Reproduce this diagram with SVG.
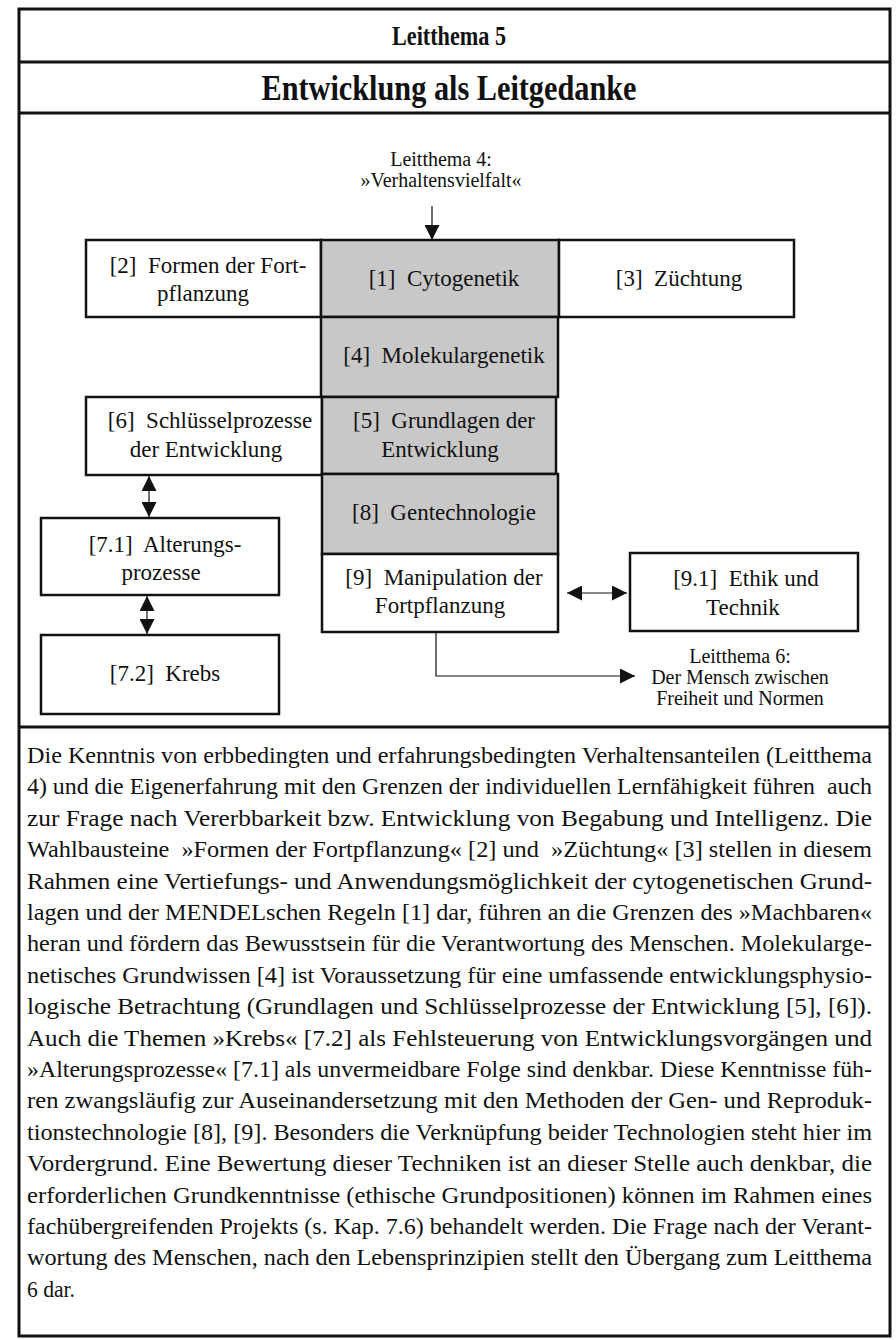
<svg xmlns="http://www.w3.org/2000/svg" width="896" height="1340" viewBox="0 0 896 1340">
  <style>
    .frame { fill: #ffffff; stroke: #111111; stroke-width: 3; }
    .sep { stroke: #111111; stroke-width: 3; }
    .box { fill: #ffffff; stroke: #111111; stroke-width: 2.5; }
    .core { fill: #c8c8c8; stroke: #111111; stroke-width: 2.5; }
    .title { font-family: "Liberation Serif", "Times New Roman", serif; font-weight: bold; fill: #111111; text-anchor: middle; }
    .label { font-family: "Liberation Serif", "Times New Roman", serif; font-size: 23px; fill: #111111; text-anchor: middle; }
    .note { font-family: "Liberation Serif", "Times New Roman", serif; font-size: 20px; fill: #111111; text-anchor: middle; }
    .body { font-family: "Liberation Serif", "Times New Roman", serif; font-size: 24px; fill: #111111; }
    .link { fill: none; stroke: #111111; stroke-width: 1.2; }
  </style>
  <defs>
    <marker id="head" viewBox="0 0 15 15" refX="15" refY="7.5" markerWidth="15" markerHeight="15" markerUnits="userSpaceOnUse" orient="auto-start-reverse">
      <path d="M0,0 L15,7.5 L0,15 z" fill="#111111"/>
    </marker>
  </defs>

  <!-- outer frame and row rules -->
  <rect class="frame" x="19" y="9" width="871" height="1327"/>
  <line class="sep" x1="19" y1="62" x2="890" y2="62"/>
  <line class="sep" x1="19" y1="113" x2="890" y2="113"/>
  <line class="sep" x1="19" y1="727" x2="890" y2="727"/>

  <!-- headings (narrow, tall type) -->
  <text class="title" x="449" y="45" font-size="27" textLength="114" lengthAdjust="spacingAndGlyphs">Leitthema 5</text>
  <text class="title" x="449" y="100" font-size="36" textLength="375" lengthAdjust="spacingAndGlyphs">Entwicklung als Leitgedanke</text>

  <!-- neighbouring themes -->
  <g id="lt4">
    <text class="note" x="441" y="166">Leitthema 4:</text>
    <text class="note" x="441" y="187">»Verhaltensvielfalt«</text>
  </g>
  <g id="lt6">
    <text class="note" x="740" y="663">Leitthema 6:</text>
    <text class="note" x="740" y="684">Der Mensch zwischen</text>
    <text class="note" x="740" y="705">Freiheit und Normen</text>
  </g>

  <!-- modules -->
  <g id="n2">
    <rect class="box" x="86" y="240" width="235" height="77"/>
    <text class="label" x="208" y="273">[2]&#160; Formen der Fort-</text>
    <text class="label" x="203" y="301">pflanzung</text>
  </g>
  <g id="n1">
    <rect class="core" x="321" y="240" width="238" height="77"/>
    <text class="label" x="444" y="286">[1]&#160; Cytogenetik</text>
  </g>
  <g id="n3">
    <rect class="box" x="559" y="240" width="235" height="77"/>
    <text class="label" x="679" y="286">[3]&#160; Züchtung</text>
  </g>
  <g id="n4">
    <rect class="core" x="321" y="317" width="237" height="80"/>
    <text class="label" x="444" y="363">[4]&#160; Molekulargenetik</text>
  </g>
  <g id="n6">
    <rect class="box" x="86" y="397" width="236" height="78"/>
    <text class="label" x="210" y="428">[6]&#160; Schlüsselprozesse</text>
    <text class="label" x="206" y="457">der Entwicklung</text>
  </g>
  <g id="n5">
    <rect class="core" x="322" y="397" width="234" height="77"/>
    <text class="label" x="444" y="428">[5]&#160; Grundlagen der</text>
    <text class="label" x="440" y="457">Entwicklung</text>
  </g>
  <g id="n8">
    <rect class="core" x="322" y="474" width="236" height="80"/>
    <text class="label" x="444" y="520">[8]&#160; Gentechnologie</text>
  </g>
  <g id="n9">
    <rect class="box" x="322" y="554" width="236" height="78"/>
    <text class="label" x="444" y="585">[9]&#160; Manipulation der</text>
    <text class="label" x="440" y="613">Fortpflanzung</text>
  </g>
  <g id="n91">
    <rect class="box" x="630" y="553" width="228" height="78"/>
    <text class="label" x="746" y="586">[9.1]&#160; Ethik und</text>
    <text class="label" x="743" y="615">Technik</text>
  </g>
  <g id="n71">
    <rect class="box" x="41" y="518" width="238" height="77"/>
    <text class="label" x="165" y="552">[7.1]&#160; Alterungs-</text>
    <text class="label" x="161" y="580">prozesse</text>
  </g>
  <g id="n72">
    <rect class="box" x="41" y="635" width="238" height="79"/>
    <text class="label" x="165" y="681">[7.2]&#160; Krebs</text>
  </g>

  <!-- connectors -->
  <g id="connectors">
    <line class="link" x1="432" y1="206" x2="432" y2="240" marker-end="url(#head)"/>
    <line class="link" x1="149" y1="476" x2="149" y2="517" marker-start="url(#head)" marker-end="url(#head)"/>
    <line class="link" x1="147" y1="596" x2="147" y2="634" marker-start="url(#head)" marker-end="url(#head)"/>
    <line class="link" x1="567" y1="593" x2="627" y2="593" marker-start="url(#head)" marker-end="url(#head)"/>
    <polyline class="link" points="436,632 436,676 635,676" marker-end="url(#head)"/>
  </g>

  <!-- explanatory paragraph, justified in narrow type -->
  <g id="text">
    <text class="body" x="27" y="763" textLength="845" lengthAdjust="spacingAndGlyphs">Die Kenntnis von erbbedingten und erfahrungsbedingten Verhaltensanteilen (Leitthema</text>
    <text class="body" x="27" y="794.4" textLength="845" lengthAdjust="spacingAndGlyphs">4) und die Eigenerfahrung mit den Grenzen der individuellen Lernfähigkeit führen&#160; auch</text>
    <text class="body" x="27" y="825.8" textLength="845" lengthAdjust="spacingAndGlyphs">zur Frage nach Vererbbarkeit bzw. Entwicklung von Begabung und Intelligenz. Die</text>
    <text class="body" x="27" y="857.2" textLength="845" lengthAdjust="spacingAndGlyphs">Wahlbausteine&#160; »Formen der Fortpflanzung« [2] und&#160; »Züchtung« [3] stellen in diesem</text>
    <text class="body" x="27" y="888.6" textLength="845" lengthAdjust="spacingAndGlyphs">Rahmen eine Vertiefungs- und Anwendungsmöglichkeit der cytogenetischen Grund-</text>
    <text class="body" x="27" y="920" textLength="845" lengthAdjust="spacingAndGlyphs">lagen und der MENDELschen Regeln [1] dar, führen an die Grenzen des »Machbaren«</text>
    <text class="body" x="27" y="951.4" textLength="845" lengthAdjust="spacingAndGlyphs">heran und fördern das Bewusstsein für die Verantwortung des Menschen. Molekularge-</text>
    <text class="body" x="27" y="982.8" textLength="845" lengthAdjust="spacingAndGlyphs">netisches Grundwissen [4] ist Voraussetzung für eine umfassende entwicklungsphysio-</text>
    <text class="body" x="27" y="1014.2" textLength="845" lengthAdjust="spacingAndGlyphs">logische Betrachtung (Grundlagen und Schlüsselprozesse der Entwicklung [5], [6]).</text>
    <text class="body" x="27" y="1045.6" textLength="845" lengthAdjust="spacingAndGlyphs">Auch die Themen »Krebs« [7.2] als Fehlsteuerung von Entwicklungsvorgängen und</text>
    <text class="body" x="27" y="1077" textLength="845" lengthAdjust="spacingAndGlyphs">»Alterungsprozesse« [7.1] als unvermeidbare Folge sind denkbar. Diese Kenntnisse füh-</text>
    <text class="body" x="27" y="1108.4" textLength="845" lengthAdjust="spacingAndGlyphs">ren zwangsläufig zur Auseinandersetzung mit den Methoden der Gen- und Reproduk-</text>
    <text class="body" x="27" y="1139.8" textLength="845" lengthAdjust="spacingAndGlyphs">tionstechnologie [8], [9]. Besonders die Verknüpfung beider Technologien steht hier im</text>
    <text class="body" x="27" y="1171.2" textLength="845" lengthAdjust="spacingAndGlyphs">Vordergrund. Eine Bewertung dieser Techniken ist an dieser Stelle auch denkbar, die</text>
    <text class="body" x="27" y="1202.6" textLength="845" lengthAdjust="spacingAndGlyphs">erforderlichen Grundkenntnisse (ethische Grundpositionen) können im Rahmen eines</text>
    <text class="body" x="27" y="1234" textLength="845" lengthAdjust="spacingAndGlyphs">fachübergreifenden Projekts (s. Kap. 7.6) behandelt werden. Die Frage nach der Verant-</text>
    <text class="body" x="27" y="1265.4" textLength="845" lengthAdjust="spacingAndGlyphs">wortung des Menschen, nach den Lebensprinzipien stellt den Übergang zum Leitthema</text>
    <text class="body" x="27" y="1296.8" textLength="48" lengthAdjust="spacingAndGlyphs">6 dar.</text>
  </g>
</svg>
